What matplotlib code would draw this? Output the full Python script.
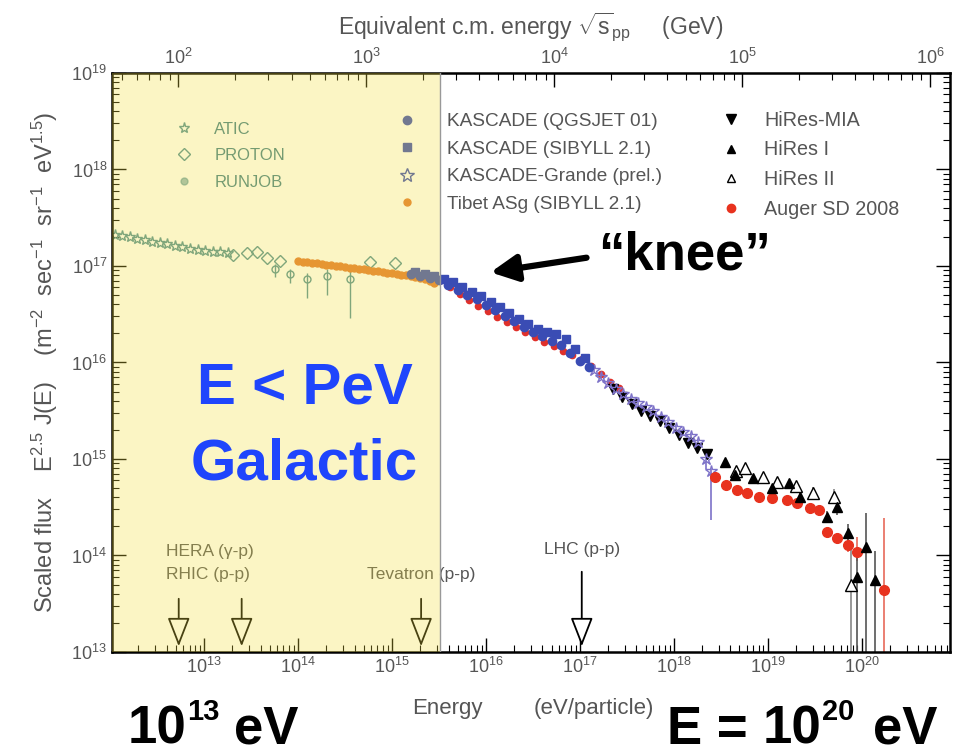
import numpy as np
import matplotlib.pyplot as plt

plt.rcParams['font.family'] = ['Liberation Sans', 'DejaVu Sans']
plt.rcParams['mathtext.fontset'] = 'custom'
plt.rcParams['mathtext.rm'] = 'Liberation Sans'
plt.rcParams['mathtext.it'] = 'Liberation Sans:italic'
plt.rcParams['mathtext.bf'] = 'Liberation Sans:bold'

GRAY = '#555555'

# all values are log10(E / eV) and log10(E^2.5 J(E))
atic_logE = [12.05, 12.13, 12.21, 12.29, 12.37, 12.45, 12.53, 12.61, 12.69, 12.77, 12.85, 12.93, 13.01, 13.09, 13.17, 13.25]
atic_logF = [17.32, 17.31, 17.30, 17.28, 17.27, 17.25, 17.24, 17.23, 17.21, 17.20, 17.18, 17.17, 17.16, 17.15, 17.14, 17.13]

proton_logE = [13.31, 13.46, 13.56, 13.67, 13.81, 14.77, 15.03]
proton_logF = [17.11, 17.13, 17.14, 17.08, 17.05, 17.04, 17.03]

runjob_logE = [13.76, 13.91, 14.10, 14.31, 14.55]
runjob_logF = [16.97, 16.92, 16.87, 16.90, 16.86]
runjob_lo = [0.08, 0.10, 0.20, 0.20, 0.40]
runjob_hi = [0.05, 0.05, 0.06, 0.07, 0.10]

tibet_logE = [14.00, 14.05, 14.10, 14.15, 14.20, 14.25, 14.30, 14.35, 14.40, 14.45,
              14.50, 14.55, 14.60, 14.65, 14.70, 14.75, 14.80, 14.85, 14.90, 14.95,
              15.00, 15.05, 15.10, 15.15, 15.20, 15.25, 15.30, 15.35, 15.40, 15.45]
tibet_logF = [17.05, 17.04, 17.04, 17.03, 17.03, 17.02, 17.01, 17.01, 17.00, 17.00,
              16.99, 16.98, 16.98, 16.97, 16.97, 16.96, 16.95, 16.95, 16.94, 16.93,
              16.93, 16.92, 16.91, 16.91, 16.90, 16.89, 16.88, 16.86, 16.84, 16.82]

kq_logE = [15.20, 15.30, 15.40, 15.50, 15.60, 15.70, 15.80, 15.90, 16.00, 16.10,
           16.20, 16.30, 16.40, 16.50, 16.60, 16.70, 16.80, 16.90, 17.00, 17.10]
kq_logF = [16.92, 16.90, 16.88, 16.85, 16.80, 16.75, 16.70, 16.66, 16.60, 16.54,
           16.48, 16.43, 16.37, 16.32, 16.27, 16.22, 16.18, 16.10, 16.02, 15.95]

ks_logE = [15.25, 15.35, 15.45, 15.55, 15.65, 15.75, 15.85, 15.95, 16.05, 16.15,
           16.25, 16.35, 16.45, 16.55, 16.65, 16.75, 16.85, 16.95, 17.05]
ks_logF = [16.94, 16.92, 16.90, 16.87, 16.83, 16.78, 16.73, 16.69, 16.63, 16.57,
           16.51, 16.45, 16.40, 16.35, 16.32, 16.30, 16.24, 16.14, 16.05]

# second knee-region set plotted in red underneath the KASCADE points
kr_logE = [15.52, 15.62, 15.72, 15.82, 15.92, 16.02, 16.12, 16.22, 16.32, 16.42,
           16.52, 16.62, 16.72, 16.82, 16.92, 17.02, 17.12, 17.22, 17.32, 17.42]
kr_logF = [16.85, 16.78, 16.71, 16.65, 16.59, 16.53, 16.47, 16.42, 16.37, 16.32,
           16.26, 16.21, 16.17, 16.12, 16.08, 16.04, 15.96, 15.88, 15.80, 15.74]

grande_logE = [17.15, 17.22, 17.30, 17.38, 17.46, 17.54, 17.62, 17.70, 17.78, 17.86,
               17.94, 18.02, 18.10, 18.18, 18.26, 18.34, 18.40]
grande_logF = [15.92, 15.85, 15.79, 15.72, 15.67, 15.62, 15.58, 15.54, 15.50, 15.44,
               15.38, 15.32, 15.28, 15.24, 15.18, 15.00, 14.88]
grande_lo = [0.02, 0.02, 0.02, 0.02, 0.02, 0.02, 0.02, 0.02, 0.03, 0.03,
             0.03, 0.03, 0.04, 0.05, 0.06, 0.10, 0.51]

mia_logE = [17.35, 17.45, 17.55, 17.65, 17.75, 17.85, 17.95, 18.05, 18.15, 18.25, 18.35]
mia_logF = [15.72, 15.64, 15.57, 15.50, 15.45, 15.39, 15.32, 15.25, 15.17, 15.11, 15.05]

hires1_logE = [18.54, 18.65, 18.84, 19.05, 19.23, 19.34, 19.63, 19.74, 19.85, 19.95, 20.05, 20.14]
hires1_logF = [14.97, 14.83, 14.80, 14.70, 14.75, 14.61, 14.40, 14.50, 14.23, 13.78, 14.09, 13.75]
hires1_lo = [0.02, 0.02, 0.02, 0.03, 0.03, 0.04, 0.06, 0.08, 0.10, 0.80, 1.10, 0.80]
hires1_hi = [0.02, 0.02, 0.02, 0.03, 0.03, 0.04, 0.06, 0.08, 0.10, 0.25, 0.35, 0.30]

hires2_logE = [18.66, 18.76, 18.95, 19.10, 19.30, 19.48, 19.71, 19.89]
hires2_logF = [14.88, 14.91, 14.81, 14.76, 14.72, 14.65, 14.61, 13.69]
hires2_lo = [0.02, 0.02, 0.02, 0.03, 0.04, 0.06, 0.08, 0.70]
hires2_hi = [0.02, 0.02, 0.02, 0.03, 0.04, 0.06, 0.08, 0.40]

auger_logE = [18.44, 18.56, 18.67, 18.78, 18.91, 19.05, 19.20, 19.31, 19.45, 19.55,
              19.63, 19.74, 19.85, 19.95, 20.24]
auger_logF = [14.81, 14.73, 14.68, 14.65, 14.61, 14.60, 14.58, 14.54, 14.49, 14.47,
              14.24, 14.18, 14.11, 14.04, 13.64]
auger_lo = [0.01, 0.01, 0.01, 0.01, 0.01, 0.01, 0.02, 0.02, 0.02, 0.03,
            0.04, 0.05, 0.07, 0.10, 0.70]
auger_hi = [0.01, 0.01, 0.01, 0.01, 0.01, 0.01, 0.02, 0.02, 0.02, 0.03,
            0.04, 0.05, 0.07, 0.15, 0.75]

# collider equivalent lab energies and where their labels sit
coll_names = ['HERA (\u03b3-p)', 'RHIC (p-p)', 'Tevatron (p-p)', 'LHC (p-p)']
coll_logE = [12.73, 13.40, 15.31, 17.02]
coll_top_logF = [13.58, 13.58, 13.58, 13.86]
coll_label_logE = [12.59, 12.59, 15.31, 17.02]
coll_label_logF = [14.04, 13.80, 13.80, 14.06]
coll_label_ha = ['left', 'left', 'center', 'center']

galactic_edge_logE = 15.51


def lin(v):
    return 10.0 ** np.asarray(v, dtype=float)


def yerr(logF, lo, hi):
    F = lin(logF)
    return [F - F * 10.0 ** (-np.asarray(lo)), F * 10.0 ** np.asarray(hi) - F]


fig = plt.figure(figsize=(9.55, 7.5), dpi=100)
ax = fig.add_axes([0.1173, 0.1307, 0.8775, 0.772])
ax.set_xscale('log')
ax.set_yscale('log')
ax.set_xlim(10 ** 12.02, 10 ** 20.94)
ax.set_ylim(1e13, 1e19)

teal = '#4f8f96'
h_atic, = ax.plot(lin(atic_logE), lin(atic_logF), ls='none', marker='*', ms=8,
                  mfc='none', mec=teal, mew=1.0, label='ATIC')
h_proton, = ax.plot(lin(proton_logE), lin(proton_logF), ls='none', marker='D', ms=6,
                    mfc='none', mec=teal, mew=1.0, label='PROTON')
ax.errorbar(lin(runjob_logE), lin(runjob_logF),
            yerr=yerr(runjob_logF, runjob_lo, runjob_hi),
            fmt='o', ms=5, mfc='none', mec=teal, ecolor=teal, elinewidth=1)
h_runjob, = ax.plot([], [], ls='none', marker='o', ms=5, mfc=teal, mec=teal,
                    alpha=0.6, label='RUNJOB')

orange = '#e2782f'
blue = '#3a4cb4'
h_tibet, = ax.plot(lin(tibet_logE), lin(tibet_logF), ls='none', marker='o', ms=5,
                   color=orange, label='Tibet ASg (SIBYLL 2.1)')
ax.plot(lin(kr_logE), lin(kr_logF), ls='none', marker='o', ms=4.5, color='#e0302a',
        zorder=2)
h_kq, = ax.plot(lin(kq_logE), lin(kq_logF), ls='none', marker='o', ms=6,
                color=blue, label='KASCADE (QGSJET 01)', zorder=3)
h_ks, = ax.plot(lin(ks_logE), lin(ks_logF), ls='none', marker='s', ms=6,
                color=blue, label='KASCADE (SIBYLL 2.1)', zorder=3)

purple = '#7d72c8'
ax.errorbar(lin(grande_logE), lin(grande_logF),
            yerr=yerr(grande_logF, grande_lo, [0.02] * len(grande_logF)),
            fmt='*', ms=9, mfc='none', mec=purple, mew=1.0, ecolor=purple, elinewidth=1.2)
h_grande, = ax.plot([], [], ls='none', marker='*', ms=10, mfc='none', mec=blue,
                    mew=1.0, label='KASCADE-Grande (prel.)')

h_mia, = ax.plot(lin(mia_logE), lin(mia_logF), ls='none', marker='v', ms=7,
                 color='k', label='HiRes-MIA')
auger_red = '#e8321e'
ax.errorbar(lin(auger_logE), lin(auger_logF), yerr=yerr(auger_logF, auger_lo, auger_hi),
            fmt='o', ms=7, color=auger_red, ecolor='#e86a5a', elinewidth=1.2)
h_auger, = ax.plot([], [], ls='none', marker='o', ms=6, color=auger_red,
                   label='Auger SD 2008')
ax.errorbar(lin(hires2_logE), lin(hires2_logF), yerr=yerr(hires2_logF, hires2_lo, hires2_hi),
            fmt='^', ms=8, mfc='white', mec='k', mew=1.0, ecolor='#888888', elinewidth=1.2)
h_hires2, = ax.plot([], [], ls='none', marker='^', ms=6, mfc='none', mec='k',
                    mew=1.0, label='HiRes II')
ax.errorbar(lin(hires1_logE), lin(hires1_logF), yerr=yerr(hires1_logF, hires1_lo, hires1_hi),
            fmt='^', ms=7, color='k', ecolor='#555555', elinewidth=1.2)
h_hires1, = ax.plot([], [], ls='none', marker='^', ms=6, color='k', label='HiRes I')

# collider arrows
for le, tf in zip(coll_logE, coll_top_logF):
    ax.annotate('', xy=(10 ** le, 10 ** 13.03), xytext=(10 ** le, 10 ** tf),
                arrowprops=dict(arrowstyle='-|>,head_length=0.9,head_width=0.35',
                                mutation_scale=20, fc='white', ec='k', lw=1.3),
                zorder=3)
for name, le, lf, ha in zip(coll_names, coll_label_logE, coll_label_logF, coll_label_ha):
    ax.text(10 ** le, 10 ** lf, name, ha=ha, va='center', fontsize=12.5, color=GRAY)

# legends
leg1 = ax.legend(handles=[h_atic, h_proton, h_runjob], loc='upper left',
                 bbox_to_anchor=(0.0745, 0.916), frameon=False, fontsize=12,
                 handlelength=1.2, handletextpad=1.2, labelspacing=0.7,
                 borderpad=0, borderaxespad=0, labelcolor='#3f7f88')
ax.add_artist(leg1)
leg2 = ax.legend(handles=[h_kq, h_ks, h_grande, h_tibet], loc='upper left',
                 bbox_to_anchor=(0.336, 0.931), frameon=False, fontsize=13.7,
                 handlelength=1.4, handletextpad=1.4, labelspacing=0.54,
                 borderpad=0, borderaxespad=0, labelcolor=GRAY)
ax.add_artist(leg2)
ax.legend(handles=[h_mia, h_hires1, h_hires2, h_auger], loc='upper left',
          bbox_to_anchor=(0.722, 0.935), frameon=False, fontsize=14.2,
          handlelength=1.4, handletextpad=1.0, labelspacing=0.55,
          borderpad=0, borderaxespad=0, labelcolor=GRAY)

# galactic region shading drawn over the low-energy data
ax.axvspan(10 ** 12.0, 10 ** galactic_edge_logE, color='#f2de3e', alpha=0.3,
           lw=0, zorder=6)
ax.axvline(10 ** galactic_edge_logE, color='#999999', lw=1.0, zorder=6)

# ticks
ax.tick_params(which='both', direction='in', top=False, right=True,
               labelcolor=GRAY, labelsize=13)
ax.tick_params(which='major', length=10, width=1.0)
ax.tick_params(which='minor', length=5, width=0.8)
for sp in ax.spines.values():
    sp.set_linewidth(1.8)


def to_sqrts(E):
    E = np.clip(np.asarray(E, dtype=float), 1e-30, None)
    return np.sqrt(E * 1.876e9) / 1e9


def from_sqrts(s):
    s = np.asarray(s, dtype=float)
    return (s * 1e9) ** 2 / 1.876e9


top = ax.secondary_xaxis('top', functions=(to_sqrts, from_sqrts))
top.tick_params(which='both', direction='in', labelcolor=GRAY, labelsize=13)
top.tick_params(which='major', length=10, width=1.0)
top.tick_params(which='minor', length=5, width=0.8)
top.set_xlabel(r'Equivalent c.m. energy $\sqrt{\mathrm{s}}_{\mathrm{pp}}$     (GeV)',
               fontsize=16.5, color=GRAY, labelpad=10)

ax.set_ylabel(r'Scaled flux    E$^{2.5}$ J(E)    (m$^{-2}$  sec$^{-1}$  sr$^{-1}$  eV$^{1.5}$)',
              fontsize=17, color=GRAY, labelpad=8)
ax.text(0.40, -0.097, 'Energy', transform=ax.transAxes, ha='center', va='center',
        fontsize=16, color=GRAY)
ax.text(0.575, -0.097, '(eV/particle)', transform=ax.transAxes, ha='center',
        va='center', fontsize=16, color=GRAY)

# annotations
ax.annotate('', xy=(10 ** 16.02, 10 ** 16.93), xytext=(10 ** 17.10, 10 ** 17.09),
            arrowprops=dict(arrowstyle='-|>', mutation_scale=40, lw=4.5, color='k'),
            zorder=10)
fig.text(0.626, 0.66, '\u201cknee\u201d', fontsize=38, fontweight='bold',
         ha='left', va='center')
fig.text(0.319, 0.482, 'E < PeV', fontsize=42, fontweight='bold', color='#1f45fc',
         ha='center', va='center', zorder=10)
fig.text(0.319, 0.381, 'Galactic', fontsize=42, fontweight='bold', color='#1f45fc',
         ha='center', va='center', zorder=10)


def px(x, y):
    return x / 955, 1 - y / 750


big = dict(fontsize=38, fontweight='bold', va='baseline', ha='left')
sup = dict(fontsize=21, fontweight='bold', va='baseline', ha='left')
fig.text(*px(128, 744), '10', **big)
fig.text(*px(187, 720), '13', **sup)
fig.text(*px(234, 744), 'eV', **big)
fig.text(*px(667, 744), 'E =', **big)
fig.text(*px(763, 744), '10', **big)
fig.text(*px(822, 720), '20', **sup)
fig.text(*px(873, 744), 'eV', **big)

fig.savefig('out.png', dpi=100)
